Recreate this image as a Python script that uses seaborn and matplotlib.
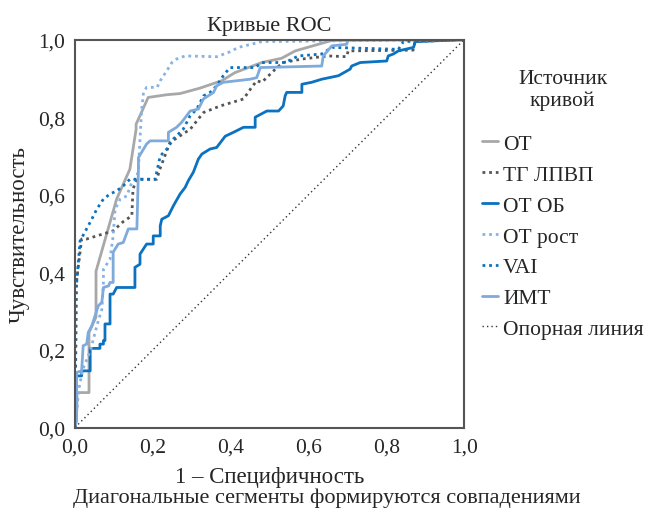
import matplotlib
matplotlib.use('Agg')
import matplotlib.pyplot as plt
import seaborn as sns
import pandas as pd

# ДАННЫЕ КРИВЫХ ROC (1 - специфичность, чувствительность)
ot_x = [0, 0.005, 0.005, 0.036, 0.036, 0.054, 0.054, 0.107, 0.141, 0.157, 0.157, 0.188, 0.236, 0.27, 0.321, 0.377, 0.411, 0.48, 0.531, 0.566, 0.66, 1.0]
ot_y = [0, 0.05, 0.09, 0.09, 0.245, 0.285, 0.403, 0.589, 0.666, 0.769, 0.782, 0.851, 0.858, 0.861, 0.875, 0.894, 0.915, 0.941, 0.952, 0.971, 0.998, 1.0]

tg_x = [0, 0.004, 0.017, 0.03, 0.098, 0.123, 0.146, 0.149, 0.159, 0.21, 0.218, 0.244, 0.296, 0.33, 0.373, 0.433, 0.454, 0.467, 0.48, 0.519, 0.535, 0.583, 0.651, 0.698, 0.702, 0.869, 0.874, 1.0]
tg_y = [0, 0.378, 0.486, 0.486, 0.507, 0.53, 0.546, 0.615, 0.64, 0.64, 0.666, 0.735, 0.769, 0.812, 0.829, 0.847, 0.877, 0.894, 0.89, 0.928, 0.941, 0.95, 0.958, 0.956, 0.971, 0.973, 0.995, 1.0]

otob_x = [0, 0.003, 0.003, 0.017, 0.017, 0.039, 0.039, 0.064, 0.064, 0.073, 0.073, 0.077, 0.077, 0.09, 0.09, 0.098, 0.107, 0.154, 0.154, 0.167, 0.167, 0.184, 0.201, 0.201, 0.219, 0.219, 0.223, 0.24, 0.253, 0.27, 0.283, 0.291, 0.304, 0.317, 0.326, 0.347, 0.364, 0.386, 0.407, 0.433, 0.463, 0.463, 0.493, 0.523, 0.535, 0.54, 0.544, 0.583, 0.583, 0.608, 0.634, 0.677, 0.707, 0.711, 0.733, 0.801, 0.805, 0.818, 0.831, 0.87, 0.874, 1.0]
otob_y = [0, 0.02, 0.133, 0.133, 0.146, 0.146, 0.204, 0.204, 0.215, 0.215, 0.224, 0.224, 0.267, 0.267, 0.344, 0.344, 0.361, 0.361, 0.413, 0.421, 0.447, 0.473, 0.473, 0.494, 0.494, 0.52, 0.537, 0.546, 0.572, 0.602, 0.619, 0.636, 0.658, 0.692, 0.705, 0.718, 0.722, 0.751, 0.761, 0.774, 0.774, 0.8, 0.816, 0.816, 0.829, 0.855, 0.864, 0.864, 0.885, 0.89, 0.898, 0.907, 0.924, 0.932, 0.941, 0.945, 0.958, 0.963, 0.971, 0.98, 0.995, 1.0]

otrost_x = [0, 0.01, 0.02, 0.04, 0.056, 0.069, 0.073, 0.073, 0.09, 0.098, 0.103, 0.116, 0.133, 0.146, 0.159, 0.163, 0.167, 0.171, 0.176, 0.184, 0.211, 0.219, 0.236, 0.249, 0.261, 0.283, 0.364, 0.394, 0.42, 0.48, 1.0]
otrost_y = [0, 0.1, 0.15, 0.2, 0.262, 0.305, 0.374, 0.408, 0.434, 0.494, 0.563, 0.589, 0.597, 0.632, 0.645, 0.666, 0.744, 0.816, 0.864, 0.877, 0.877, 0.894, 0.92, 0.941, 0.95, 0.958, 0.956, 0.967, 0.98, 0.995, 1.0]

vai_x = [0, 0, 0.004, 0.013, 0.034, 0.043, 0.056, 0.073, 0.09, 0.107, 0.124, 0.141, 0.206, 0.219, 0.236, 0.253, 0.278, 0.296, 0.313, 0.33, 0.347, 0.364, 0.381, 0.398, 0.463, 0.48, 0.54, 0.574, 0.634, 0.66, 0.831, 0.844, 1.0]
vai_y = [0, 0.37, 0.37, 0.481, 0.52, 0.537, 0.563, 0.589, 0.602, 0.61, 0.623, 0.64, 0.64, 0.7, 0.718, 0.744, 0.769, 0.804, 0.821, 0.855, 0.864, 0.881, 0.907, 0.928, 0.928, 0.941, 0.941, 0.958, 0.963, 0.98, 0.975, 0.995, 1.0]

imt_x = [0, 0.004, 0.004, 0.017, 0.021, 0.03, 0.034, 0.043, 0.06, 0.069, 0.073, 0.086, 0.09, 0.098, 0.098, 0.111, 0.124, 0.137, 0.159, 0.163, 0.163, 0.184, 0.193, 0.24, 0.24, 0.261, 0.274, 0.287, 0.296, 0.317, 0.33, 0.356, 0.364, 0.381, 0.45, 0.467, 0.476, 0.634, 0.638, 0.66, 0.698, 0.702, 1.0]
imt_y = [0, 0.02, 0.142, 0.146, 0.211, 0.215, 0.245, 0.262, 0.314, 0.323, 0.361, 0.365, 0.374, 0.374, 0.452, 0.473, 0.477, 0.512, 0.512, 0.666, 0.696, 0.731, 0.739, 0.739, 0.761, 0.774, 0.787, 0.804, 0.816, 0.821, 0.847, 0.864, 0.881, 0.89, 0.898, 0.902, 0.928, 0.932, 0.958, 0.984, 0.988, 1.0, 1.0]

ref_x = [0, 1]
ref_y = [0, 1]

ticks = [0, 0.2, 0.4, 0.6, 0.8, 1.0]
tick_labels = ['0,0', '0,2', '0,4', '0,6', '0,8', '1,0']

sns.set_style('white')
plt.rcParams['font.family'] = ['Liberation Serif', 'DejaVu Serif']

fig = plt.figure(figsize = (6.54, 5.10), dpi = 100)
ax = fig.add_axes([0.1147, 0.1598, 0.595, 0.7605])

dot = (0, (1, 1.4))
curves = [
    ('ОТ', ot_x, ot_y, '#a8a8a8', '-', 2.0),
    ('ТГ ЛПВП', tg_x, tg_y, '#555555', dot, 2.0),
    ('ОТ ОБ', otob_x, otob_y, '#0a72c0', '-', 2.0),
    ('ОТ рост', otrost_x, otrost_y, '#86b3e4', dot, 2.0),
    ('VAI', vai_x, vai_y, '#0a72c0', dot, 2.0),
    ('ИМТ', imt_x, imt_y, '#7eaadc', '-', 2.0),
    ('Опорная линия', ref_x, ref_y, '#333333', (0, (1, 2.2)), 1.0),
]
for name, xs, ys, col, ls, lw in curves:
    df = pd.DataFrame({'x': xs, 'y': ys})
    sns.lineplot(data = df, x = 'x', y = 'y', sort = False, estimator = None, ax = ax,
                 color = col, linestyle = ls, linewidth = lw, label = name)

ax.set_xlim(0, 1)
ax.set_ylim(0, 1)
ax.set_xticks(ticks)
ax.set_yticks(ticks)
ax.set_xticklabels(tick_labels, fontsize = 15.5)
ax.set_yticklabels(tick_labels, fontsize = 15.5)
ax.tick_params(axis = 'both', direction = 'out', length = 5, width = 1.2, color = '#444444', pad = 2)
for s in ax.spines.values():
    s.set_color('#555555')
    s.set_linewidth(1.5)

ax.set_title('Кривые ROC', fontsize = 16, pad = 7)
ax.set_xlabel('1 – Специфичность', fontsize = 16.5)
ax.xaxis.set_label_coords(0.5, -0.098)
ax.set_ylabel('Чувствительность', fontsize = 16.5)
ax.yaxis.set_label_coords(-0.115, 0.5)
fig.text(0.5, 0.024, 'Диагональные сегменты формируются совпадениями', ha = 'center', va = 'center', fontsize = 16)

leg = ax.legend(loc = 'upper left', bbox_to_anchor = (0.72, 0.884), bbox_transform = fig.transFigure,
                frameon = False, borderpad = 0, title = 'Источник\nкривой', fontsize = 15.5, title_fontsize = 15.5,
                handlelength = 0.75, handletextpad = 0.25, labelspacing = 0.5)
leg._legend_box.align = 'center'
leg.get_title().set_multialignment('center')
leg._legend_box.sep = 17

plt.savefig('out.png', dpi = 100)
